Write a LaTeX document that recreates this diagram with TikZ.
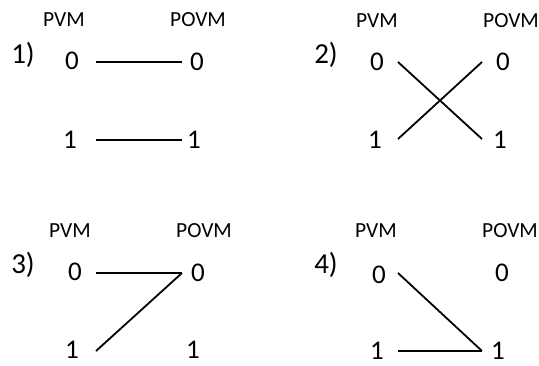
\documentclass[tikz,border=0pt]{standalone}
\usepackage{fontspec}
\setmainfont{Carlito}
\begin{document}
\begin{tikzpicture}[x=1pt,y=-1pt,
  hdr/.style={inner sep=0pt,font=\fontsize{21.5}{24}\selectfont},
  dig/.style={inner sep=0pt,font=\fontsize{27}{30}\selectfont},
  num/.style={inner sep=0pt,anchor=base,font=\fontsize{29}{32}\selectfont},
  wire/.style={line width=1.8pt,line cap=butt}]
\useasboundingbox (0,0) rectangle (539,365);
% Panel 1
\node[hdr] (h1a) at (64,20) {PVM};
\node[hdr] (h1b) at (198,20) {POVM};
\node[num] (n1) at (23,63) {1)};
\node[dig] (a1l0) at (72,61) {0};
\node[dig] (a1r0) at (197,62) {0};
\node[dig] (a1l1) at (70,140) {1};
\node[dig] (a1r1) at (194,140) {1};
\coordinate (c1l0) at (96,62); \coordinate (c1r0) at (182,62);
\coordinate (c1l1) at (96,140); \coordinate (c1r1) at (182,140);
\draw[wire] (c1l0) -- (c1r0);
\draw[wire] (c1l1) -- (c1r1);
% Panel 2
\node[hdr] (h2a) at (377,21) {PVM};
\node[hdr] (h2b) at (511,21) {POVM};
\node[num] (n2) at (326,63) {2)};
\node[dig] (a2l0) at (377,62) {0};
\node[dig] (a2r0) at (503,62) {0};
\node[dig] (a2l1) at (375,140) {1};
\node[dig] (a2r1) at (500,140) {1};
\coordinate (c2l0) at (398,62); \coordinate (c2r0) at (482,62);
\coordinate (c2l1) at (398,139); \coordinate (c2r1) at (482,139);
\draw[wire] (c2l0) -- (c2r1);
\draw[wire] (c2l1) -- (c2r0);
% Panel 3
\node[hdr] (h3a) at (70,231) {PVM};
\node[hdr] (h3b) at (204,231) {POVM};
\node[num] (n3) at (23,273) {3)};
\node[dig] (a3l0) at (75,272) {0};
\node[dig] (a3r0) at (198,273) {0};
\node[dig] (a3l1) at (72,350) {1};
\node[dig] (a3r1) at (193,350) {1};
\coordinate (c3l0) at (96,273); \coordinate (c3r0) at (182,273);
\coordinate (c3l1) at (96,351);
\draw[wire] (c3l0) -- (c3r0);
\draw[wire] (c3l1) -- (c3r0);
% Panel 4
\node[hdr] (h4a) at (376,231) {PVM};
\node[hdr] (h4b) at (510,231) {POVM};
\node[num] (n4) at (326,273) {4)};
\node[dig] (a4l0) at (379,275) {0};
\node[dig] (a4r0) at (502,273) {0};
\node[dig] (a4l1) at (377,351) {1};
\node[dig] (a4r1) at (498,351) {1};
\coordinate (c4l0) at (398,273); \coordinate (c4r1) at (482,351);
\coordinate (c4l1) at (398,351);
\draw[wire] (c4l0) -- (c4r1);
\draw[wire] (c4l1) -- (c4r1);
\end{tikzpicture}
\end{document}
